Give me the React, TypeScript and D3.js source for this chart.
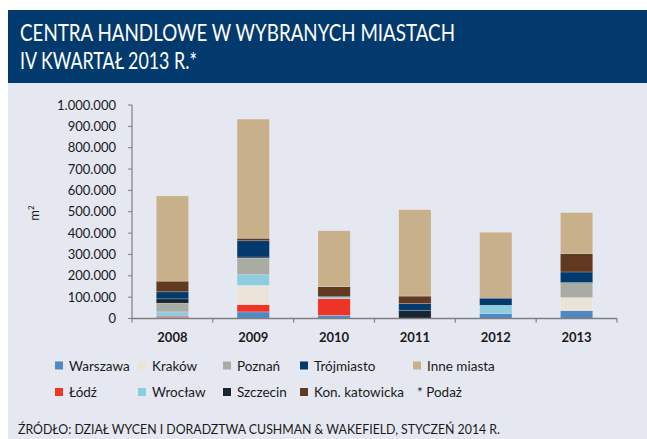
import React from "react";
import * as d3 from "d3";

const years = ["2008", "2009", "2010", "2011", "2012", "2013"];
const seriesNames = ["Warszawa", "Łódź", "Kraków", "Wrocław", "Poznań", "Szczecin", "Trójmiasto", "Kon. katowicka", "Inne miasta"];
const seriesColors = ["#4f88c2", "#ee3327", "#e9e3d8", "#8ccde0", "#a9aca3", "#17262f", "#033a6e", "#613820", "#c8b08a"];
// values in m2, per year, in stacking order above
const warszawa = [6000, 31000, 15000, 0, 24000, 37000];
const lodz = [5000, 34000, 78000, 0, 0, 0];
const krakow = [0, 90000, 0, 0, 0, 61000];
const wroclaw = [20000, 50000, 9000, 0, 38000, 0];
const poznan = [41000, 78000, 0, 0, 0, 70000];
const szczecin = [20000, 5000, 0, 37000, 0, 0];
const trojmiasto = [33000, 76000, 0, 33000, 33000, 50000];
const konKatowicka = [50000, 12000, 47000, 35000, 4000, 86000];
const inneMiasta = [399000, 558000, 262000, 405000, 305000, 192000];
const yTicks = [0, 100000, 200000, 300000, 400000, 500000, 600000, 700000, 800000, 900000, 1000000];
const legendOrder = [
  ["Warszawa", "Kraków", "Poznań", "Trójmiasto", "Inne miasta"],
  ["Łódź", "Wrocław", "Szczecin", "Kon. katowicka"],
];

const allSeries = [warszawa, lodz, krakow, wroclaw, poznan, szczecin, trojmiasto, konKatowicka, inneMiasta];

const FONT = "Lato, 'Open Sans', sans-serif";

export default function App() {
  const W = 647, H = 439;
  const x = d3.scaleBand<string>().domain(years).range([132, 617]).paddingInner(0.6).paddingOuter(0.3);
  const xb = d3.scaleBand<string>().domain(years).range([132, 617]);
  const y = d3.scaleLinear().domain([0, 1000000]).range([318.5, 105]);

  const rows = years.map((yr, i) => {
    const r: any = { year: yr };
    seriesNames.forEach((s, j) => (r[s] = allSeries[j][i]));
    return r;
  });
  const stacked = d3.stack<any>().keys(seriesNames)(rows);
  const fmt = (v: number) => (v === 0 ? "0" : d3.format(",")(v).replace(/,/g, "."));

  const legendX = [55, 138, 223, 300, 413];
  const legendY = [361.5, 388];

  return (
    <svg width={W} height={H} style={{ position: "absolute", left: 0, top: 0 }} fontFamily={FONT}>
      <rect x={0} y={0} width={W} height={H} fill="#ffffff" />
      <rect x={8} y={83} width={W - 8} height={H - 83} fill="#e5e8f1" />
      <rect x={8} y={10} width={W - 8} height={73} fill="#033a6e" />
      <text x={20} y={41} fill="#ffffff" fontSize={24} textLength={435} lengthAdjust="spacingAndGlyphs">
        CENTRA HANDLOWE W WYBRANYCH MIASTACH
      </text>
      <text x={20} y={68.5} fill="#ffffff" fontSize={24} textLength={177} lengthAdjust="spacingAndGlyphs">
        IV KWARTAŁ 2013 R.*
      </text>

      {stacked.map((layer, j) => (
        <g key={layer.key} fill={seriesColors[j]}>
          {layer.map((d, i) =>
            d[1] - d[0] > 0 ? (
              <rect
                key={i}
                x={x(years[i])!}
                width={x.bandwidth()}
                y={y(d[1])}
                height={y(d[0]) - y(d[1])}
                stroke="rgba(255,255,255,0.35)"
                strokeWidth={0.6}
              />
            ) : null
          )}
        </g>
      ))}

      {/* y axis */}
      <line x1={132} x2={132} y1={y(1000000)} y2={y(0)} stroke="#7f7f7f" strokeWidth={1.2} />
      {yTicks.map((t) => (
        <g key={t}>
          <line x1={128} x2={132} y1={y(t)} y2={y(t)} stroke="#7f7f7f" strokeWidth={1} />
          <text x={116} y={y(t)} dy="0.35em" textAnchor="end" fontSize={13} fill="#1a1a1a">
            {fmt(t)}
          </text>
        </g>
      ))}
      {/* x axis */}
      <line x1={132} x2={617} y1={y(0)} y2={y(0)} stroke="#7f7f7f" strokeWidth={1.6} />
      {years.map((yr) => (
        <line key={"t" + yr} x1={xb(yr)!} x2={xb(yr)!} y1={y(0)} y2={y(0) + 4} stroke="#7f7f7f" strokeWidth={1.2} />
      ))}
      <line x1={617} x2={617} y1={y(0)} y2={y(0) + 4} stroke="#7f7f7f" strokeWidth={1.2} />
      {years.map((yr) => (
        <text key={"l" + yr} x={xb(yr)! + xb.bandwidth() / 2} y={342} textAnchor="middle" fontSize={13} fontWeight="bold" fill="#1a1a1a">
          {yr}
        </text>
      ))}
      <text transform="translate(39,213) rotate(-90)" textAnchor="middle" fontSize={13} fill="#1a1a1a">
        m<tspan dy={-5} fontSize={8}>2</tspan>
      </text>

      {/* legend */}
      {legendOrder.map((row, ri) =>
        row.map((name, ci) => {
          const j = seriesNames.indexOf(name);
          return (
            <g key={name}>
              <rect x={legendX[ci]} y={legendY[ri]} width={8} height={8} fill={seriesColors[j]} />
              <text x={legendX[ci] + 14} y={legendY[ri] + 9} fontSize={13.5} fill="#1a1a1a">
                {name}
              </text>
            </g>
          );
        })
      )}
      <text x={417} y={legendY[1] + 9} fontSize={13.5} fill="#1a1a1a">
        * Podaż
      </text>

      <text x={18} y={434} fontSize={14} fill="#1a1a1a" textLength={482} lengthAdjust="spacingAndGlyphs">
        ŹRÓDŁO: DZIAŁ WYCEN I DORADZTWA CUSHMAN &amp; WAKEFIELD, STYCZEŃ 2014 R.
      </text>
    </svg>
  );
}
